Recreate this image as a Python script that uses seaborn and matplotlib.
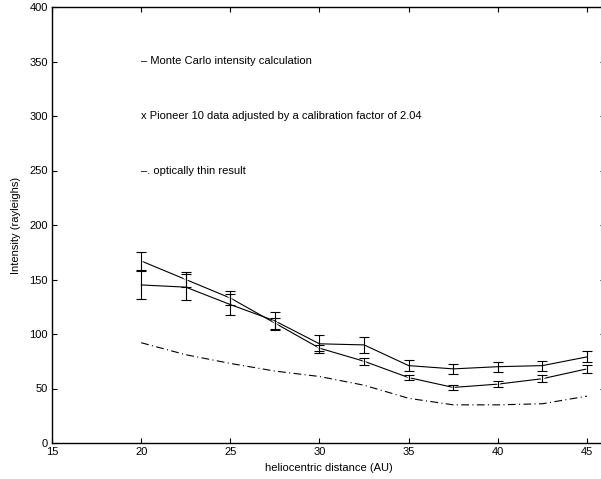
import numpy as np
import pandas as pd
import seaborn as sns
import matplotlib
matplotlib.use("Agg")
import matplotlib.pyplot as plt

# heliocentric distances (AU)
dist = [20, 22.5, 25, 27.5, 30, 32.5, 35, 37.5, 40, 42.5, 45]

# Monte Carlo intensity and its error
mc = [145, 143, 127, 112, 91, 90, 71, 68, 70, 71, 79]
mc_err = [13, 12, 10, 8, 8, 7, 5, 4.5, 4.5, 4.5, 5]

# Pioneer 10 data (x 2.04) and its error
pio = [167, 150, 133, 110, 87, 75, 60, 51, 54, 59, 68]
pio_err = [8, 7, 6, 5, 3, 3, 2.5, 2.5, 2.5, 3, 3.5]

# optically thin result
thin = [92, 81, 73, 66, 61, 53, 41, 35, 35, 36, 43]

labels = ["\u2013 Monte Carlo intensity calculation",
          "x Pioneer 10 data adjusted by a calibration factor of 2.04",
          "\u2013. optically thin result"]
label_y = [350, 300, 250]

sns.set_style("ticks")
plt.rcParams['font.family'] = ['Liberation Sans', 'DejaVu Sans']
plt.rcParams['font.size'] = 8
for k in ['text.color', 'axes.labelcolor', 'xtick.color', 'ytick.color', 'axes.edgecolor']:
    plt.rcParams[k] = 'black'

df = pd.DataFrame({'dist': dist, 'mc': mc, 'pio': pio, 'thin': thin})

fig = plt.figure(figsize=(6.01, 4.79), dpi=100)
ax = fig.add_axes([52/601, 36/479, 552.8/601, 436/479])

sns.lineplot(data=df, x='dist', y='mc', ax=ax, color='black', lw=0.8)
sns.lineplot(data=df, x='dist', y='pio', ax=ax, color='black', lw=0.8,
             marker='x', markersize=4, markeredgewidth=0.8)
sns.lineplot(data=df, x='dist', y='thin', ax=ax, color='black', lw=0.8,
             linestyle=(0, (7, 3, 1, 3)))

ax.errorbar(dist, mc, yerr=mc_err, fmt='none', ecolor='black',
            elinewidth=0.8, capsize=3.3, capthick=0.8)
ax.errorbar(dist, pio, yerr=pio_err, fmt='none', ecolor='black',
            elinewidth=0.8, capsize=3.3, capthick=0.8)

for t, yy in zip(labels, label_y):
    ax.text(20, yy, t, fontsize=8, va='center', ha='left')

ax.set_xlim(15, 46)
ax.set_ylim(0, 400)
ax.set_xticks(np.arange(15, 46, 5))
ax.set_yticks(np.arange(0, 401, 50))
ax.tick_params(direction='in', length=3.5, width=0.8, top=True, right=True,
               labelsize=8, pad=3)
for s in ax.spines.values():
    s.set_visible(True)
    s.set_linewidth(1.0)
ax.set_xlabel('heliocentric distance (AU)', fontsize=8, labelpad=4)
ax.set_ylabel('Intensity (rayleighs)', fontsize=8, labelpad=6)

fig.savefig('out.png', dpi=100)
